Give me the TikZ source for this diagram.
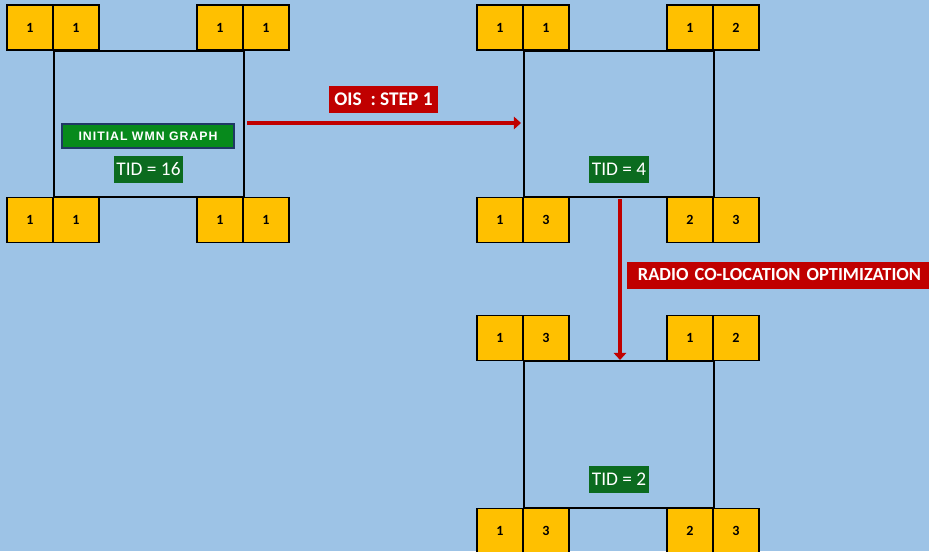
\documentclass[tikz,border=0pt]{standalone}
\usepackage{fontspec}
\setmainfont{Carlito}
\newfontfamily\spacedfont[LetterSpace=8]{Liberation Sans}
\usepackage{tikz}
\usetikzlibrary{arrows.meta,positioning}
\definecolor{bgblue}{HTML}{9DC3E6}
\definecolor{radioyellow}{HTML}{FFC000}
\definecolor{tidgreen}{HTML}{0B6B1F}
\definecolor{titlegreen}{HTML}{078A1C}
\definecolor{titleblue}{HTML}{1F3864}
\definecolor{stepred}{HTML}{C00000}
\definecolor{darkred}{HTML}{7A0000}

\begin{document}
\begin{tikzpicture}[
  x=0.02cm, y=-0.02cm,
  radio/.style={rectangle,draw,line width=0.9pt,fill=radioyellow,minimum width=0.92cm,minimum height=0.9cm,inner sep=0pt,font=\bfseries\fontsize{8}{9}\selectfont},
  edge/.style={line width=1pt},
  tid/.style={fill=tidgreen,text=white,inner xsep=1.5pt,minimum height=0.54cm,font=\fontsize{11}{12}\selectfont},
  lbl/.style={fill=stepred,text=white,minimum height=0.54cm,font=\bfseries\fontsize{11}{12}\selectfont},
  arr/.style={-{Triangle[width=7pt,length=4pt]},line width=2.8pt,draw=stepred}
]
\fill[bgblue] (0,0) rectangle (929,551);
\useasboundingbox (0,0) rectangle (929,551);

% initial graph
\node[radio] (g1tl1) at (30,27.5) {1};
\node[radio] (g1tl2) at (76,27.5) {1};
\node[radio] (g1tr1) at (220,27.5) {1};
\node[radio] (g1tr2) at (266,27.5) {1};
\node[radio] (g1bl1) at (30,220) {1};
\node[radio] (g1bl2) at (76,220) {1};
\node[radio] (g1br1) at (220,220) {1};
\node[radio] (g1br2) at (266,220) {1};
\draw[edge] (g1tl1.south east) -- (g1tr1.south east) -- (g1br1.north east) -- (g1bl1.north east) -- cycle;
\node[draw=titleblue,line width=0.8pt,fill=titlegreen,text=white,minimum width=3.44cm,minimum height=0.48cm,inner sep=0pt,font=\spacedfont\bfseries\fontsize{7}{8}\selectfont] (title) at (148,136) {INITIAL WMN GRAPH};
\node[tid] (tid1) at (148.5,169.5) {TID = 16};

% after step 1
\node[radio] (g2tl1) at (500,27.5) {1};
\node[radio] (g2tl2) at (546,27.5) {1};
\node[radio] (g2tr1) at (690,27.5) {1};
\node[radio] (g2tr2) at (736,27.5) {2};
\node[radio] (g2bl1) at (500,220) {1};
\node[radio] (g2bl2) at (546,220) {3};
\node[radio] (g2br1) at (690,220) {2};
\node[radio] (g2br2) at (736,220) {3};
\draw[edge] (g2tl1.south east) -- (g2tr1.south east) -- (g2br1.north east) -- (g2bl1.north east) -- cycle;
\node[tid] (tid2) at (619,169.5) {TID = 4};

% after co-location
\node[radio] (g3tl1) at (500,338) {1};
\node[radio] (g3tl2) at (546,338) {3};
\node[radio] (g3tr1) at (690,338) {1};
\node[radio] (g3tr2) at (736,338) {2};
\node[radio] (g3bl1) at (500,531) {1};
\node[radio] (g3bl2) at (546,531) {3};
\node[radio] (g3br1) at (690,531) {2};
\node[radio] (g3br2) at (736,531) {3};
\draw[edge] (g3tl1.south east) -- (g3tr1.south east) -- (g3br1.north east) -- (g3bl1.north east) -- cycle;
\node[tid] (tid3) at (619,479.5) {TID = 2};

% steps
\coordinate (s1) at (247,123);
\coordinate (e1) at (521,123);
\draw[arr] (s1) -- (e1);
\node[lbl,minimum width=2.02cm] (step1) at (383.5,99.5) {OIS\ \ : STEP 1};
\coordinate (s2) at (620,199);
\coordinate (e2) at (620,360);
\draw[arr] (s2) -- (e2);
\node[lbl,anchor=west,text width=6cm,align=left,inner xsep=6pt,font=\bfseries\fontsize{10.5}{12}\selectfont] (step2) at (627,275) {RADIO CO-LOCATION OPTIMIZATION};
\end{tikzpicture}
\end{document}
